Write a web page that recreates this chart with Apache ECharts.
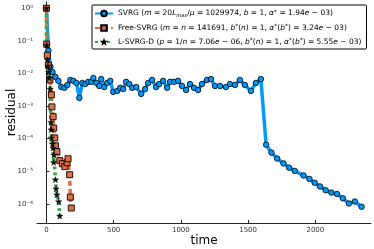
<!DOCTYPE html>
<html><head><meta charset="utf-8">
<script src="https://cdn.jsdelivr.net/npm/echarts@6/dist/echarts.min.js"></script>
<style>html,body{margin:0;padding:0;background:#fff}#c{width:374px;height:249px}</style>
</head><body><div id="c"></div>
<script>
// SVRG
const svrgT = [0,15,30,45,67,89,111,134,156,178,200,223,245,267,289,312,334,349,371,393,408,430,452,475,497,527,549,571,593,616,638,668,705,734,757,786,816,838,868,898,920,950,979,1009,1039,1068,1098,1128,1157,1194,1224,1254,1291,1335,1365,1402,1439,1476,1521,1558,1595,
  1634,1674,1716,1763,1805,1847,1912,1956,1995,2035,2077,2119,2161,2205,2250,2294,2344];
const svrgR = [1.0,0.05,0.016,1.10e-2,7.8e-3,5.9e-3,3.8e-3,3.6e-3,4.4e-3,6.3e-3,5.9e-3,5.1e-3,1.77e-3,5.1e-3,4.7e-3,5.5e-3,5.5e-3,7.2e-3,5.1e-3,4.1e-3,6.7e-3,3.8e-3,5.1e-3,5.9e-3,2.7e-3,2.9e-3,3.6e-3,3.3e-3,5.5e-3,4.7e-3,3.6e-3,3.8e-3,2.35e-3,3.3e-3,5.1e-3,6.3e-3,3.8e-3,4.7e-3,5.9e-3,3.6e-3,5.5e-3,5.5e-3,5.9e-3,4.1e-3,3.1e-3,4.7e-3,3.6e-3,3.1e-3,4.7e-3,6.3e-3,6.7e-3,4.1e-3,4.1e-3,3.8e-3,4.7e-3,4.4e-3,6.3e-3,4.4e-3,2.9e-3,5.1e-3,6.7e-3,
  6.5e-5,3.7e-5,2.45e-5,1.73e-5,1.28e-5,1.02e-5,7.4e-6,5.8e-6,4.4e-6,3.4e-6,2.6e-6,2.2e-6,2.0e-6,1.47e-6,1.02e-6,1.17e-6,8.1e-7];
// Free-SVRG
const freeT = [0,2,7,15,26,37,41,50,54,62,67,78,100,119,137,154,161,173,178,185];
const freeR = [1.0,0.079,0.036,0.018,6.3e-3,2.2e-3,9.4e-4,4.7e-4,2.1e-4,1.05e-4,6.0e-5,4.0e-5,2.1e-5,1.7e-5,1.38e-5,1.82e-5,2.4e-5,7.8e-6,1.6e-6,7.4e-7];
// L-SVRG-D
const lsvT = [0,2,7,11,17,22,28,33,36,37,45,50,54,56,67,72,78,91,99];
const lsvR = [1.0,0.074,0.026,0.017,0.011,7.2e-3,3.3e-3,3.2e-4,1.86e-4,1.05e-4,6.9e-5,5.1e-5,1.86e-5,3.2e-5,5.5e-6,2.9e-6,1.9e-6,1.17e-6,4.2e-7];
const xTicks = [0,500,1000,1500,2000];
const yTicks = [1,1e-1,1e-2,1e-3,1e-4,1e-5,1e-6];
const yTickLabels = ['10⁰','10⁻¹','10⁻²','10⁻³','10⁻⁴','10⁻⁵','10⁻⁶'];
const names = ['SVRG','Free-SVRG','L-SVRG-D'];
const legendTexts = {
  'SVRG': 'SVRG ({i|m} = 20{i|L}{sub|max}/{i|μ} = 1029974, {i|b} = 1, {i|α}{sup|*} = 1.94{i|e} − 03)',
  'Free-SVRG': 'Free-SVRG ({i|m} = {i|n} = 141691, {i|b}{sup|*}({i|n}) = 1, {i|α}{sup|*}({i|b}{sup|*}) = 3.24{i|e} − 03)',
  'L-SVRG-D': 'L-SVRG-D ({i|p} = 1/{i|n} = 7.06{i|e} − 06, {i|b}{sup|*}({i|n}) = 1, {i|α}{sup|*}({i|b}{sup|*}) = 5.55{i|e} − 03)'
};
const zip = (a,b) => a.map((v,i)=>[v,b[i]]);
// star glyph padded inside a larger box so the legend icon stays small
const star = 'path://M-50,-54 M150,146 M50,0 L61,35 L98,35 L68,57 L79,91 L50,70 L21,91 L32,57 L2,35 L39,35 Z';
const FONT = 'DejaVu Sans';
const chart = echarts.init(document.getElementById('c'), null, {renderer:'canvas'});
chart.setOption({
  animation:false,
  textStyle:{fontFamily:FONT},
  grid:{left:37,right:3,top:2,bottom:26,containLabel:false,outerBoundsMode:'none'},
  legend:{
    left:92, top:5, orient:'vertical', data:names,
    itemWidth:18, itemHeight:7, itemGap:5.5,
    padding:[4,5,3,2],
    borderColor:'#000', borderWidth:1, borderRadius:1, backgroundColor:'#fff',
    formatter: n => legendTexts[n],
    textStyle:{fontFamily:FONT, fontSize:7.5, color:'#000',
      rich:{
        i:{fontStyle:'italic', fontSize:7.5, fontFamily:FONT, color:'#000'},
        sub:{fontStyle:'italic', fontSize:5, fontFamily:FONT, color:'#000', verticalAlign:'bottom', padding:[3,0,0,0]},
        sup:{fontSize:6, fontFamily:FONT, color:'#000', verticalAlign:'top', padding:[0,0,3,0]}
      }}
  },
  xAxis:{
    type:'value', min:-70, max:2414,
    name:'time', nameLocation:'middle', nameGap:12, nameMoveOverlap:false,
    nameTextStyle:{fontSize:12, color:'#000', fontFamily:FONT},
    axisLine:{lineStyle:{color:'#222', width:1}},
    axisTick:{show:true, inside:true, length:3, customValues:xTicks, lineStyle:{color:'#222'}},
    axisLabel:{customValues:xTicks, fontSize:7, color:'#333', margin:4, formatter: v => String(v)},
    splitLine:{show:false}
  },
  yAxis:{
    type:'log', logBase:10, min:2.57e-7, max:1.55,
    name:'residual', nameLocation:'middle', nameGap:19, nameMoveOverlap:false,
    nameTextStyle:{fontSize:12, color:'#000', fontFamily:FONT},
    axisLine:{show:true, lineStyle:{color:'#222', width:1}},
    axisTick:{show:true, inside:true, length:3, customValues:yTicks, lineStyle:{color:'#222'}},
    axisLabel:{customValues:yTicks, fontSize:7, color:'#333', margin:4,
      formatter: v => { const k = yTicks.findIndex(t => Math.abs(Math.log10(t)-Math.log10(v))<1e-6); return k>=0 ? yTickLabels[k] : ''; }},
    splitLine:{show:false}
  },
  series:[
    {name:'SVRG', type:'line', data:zip(svrgT,svrgR), showAllSymbol:true,
     symbol:'circle', symbolSize:5.5, color:'#009AFA',
     lineStyle:{color:'#009AFA', width:3.5},
     itemStyle:{color:'#009AFA', borderColor:'#000', borderWidth:0.8}},
    {name:'Free-SVRG', type:'line', data:zip(freeT,freeR), showAllSymbol:true,
     symbol:'rect', symbolSize:6, color:'#E36F47',
     lineStyle:{color:'#E36F47', width:3.5, type:[5,3]},
     itemStyle:{color:'#E36F47', borderColor:'#000', borderWidth:0.9}},
    {name:'L-SVRG-D', type:'line', data:zip(lsvT,lsvR), showAllSymbol:true,
     symbol:star, symbolSize:13, color:'#3EA44E',
     lineStyle:{color:'#3EA44E', width:3.5, type:[3,3]},
     itemStyle:{color:'#111', borderColor:'#000', borderWidth:0.5}}
  ]
});
</script></body></html>
